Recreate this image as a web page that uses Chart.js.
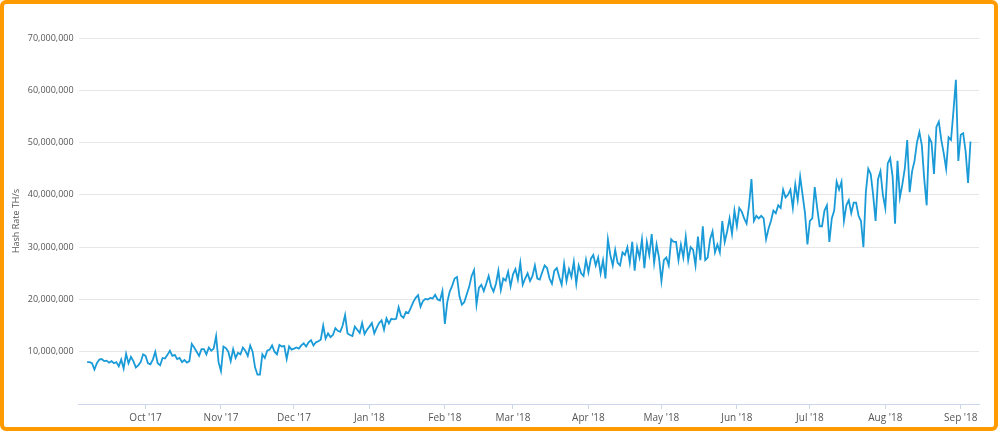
<!DOCTYPE html>
<html>
<head>
<script src="https://cdn.jsdelivr.net/npm/chart.js@4"></script>
<style>
html,body{margin:0;padding:0;background:#fff;}
#wrap{position:absolute;left:0;top:0;width:990px;height:423px;border:4px solid #ff9a00;border-radius:6px;background:#fff;}
</style>
</head>
<body>
<div id="wrap"><canvas id="ctx" width="990" height="423"></canvas></div>
<script>
// daily hash rate in millions TH/s, starting 7 Sep 2017
const startDate = new Date(2017, 8, 7);
const sep17 = [8.0,8.0,7.8,6.6,7.8,8.5,8.6,8.2,8.3,7.9,8.2,7.8,8.0,7.2,8.5,6.8,9.6,7.8,9.0,8.2,7.0,7.4,8.0,9.5];
const oct17 = [9.2,7.8,7.6,8.5,10.0,7.8,7.4,8.8,8.7,9.4,10.2,9.2,9.4,8.6,8.8,8.0,8.4,7.9,8.2,11.5,10.8,10.0,9.2,10.5,10.5,9.5,10.8,10.2,10.6,13.0,8.0];
const nov17 = [6.3,11.0,10.7,10.0,8.2,10.5,8.8,9.8,9.5,10.8,10.2,9.2,11.2,10.0,7.0,5.6,5.6,9.5,8.8,10.2,10.4,11.2,10.0,9.5,11.3,11.0,11.1,8.6,11.0,10.4];
const dec17 = [10.6,10.8,10.6,11.2,11.6,11.0,11.8,12.2,11.2,11.8,12.0,12.3,15.0,12.5,13.5,12.8,13.2,14.5,14.0,13.8,15.0,17.0,13.5,13.2,13.0,14.8,14.2,13.6,15.5,13.4,14.2];
const jan18 = [14.8,15.5,13.5,14.6,15.5,16.0,14.2,16.4,15.4,16.3,16.2,16.3,18.5,16.9,16.5,17.6,17.4,18.4,19.5,20.3,20.8,18.6,19.7,20.1,20.0,20.3,20.2,20.9,20.0,19.8,21.6];
const feb18 = [15.3,19.5,21.5,22.6,24.0,24.3,20.6,19.0,19.5,21.0,22.4,24.5,25.6,19.0,22.2,22.8,21.6,23.0,24.5,22.5,21.5,23.0,25.5,21.8,24.0,23.6,25.3,22.5];
const mar18 = [24.8,25.8,23.8,27.0,22.8,24.0,25.0,23.5,24.5,26.5,24.0,23.8,25.2,26.5,26.0,24.0,23.0,25.5,26.0,24.3,22.8,26.8,23.5,25.8,24.3,27.2,23.0,26.5,25.0,24.5,27.6];
const apr18 = [25.2,27.8,28.5,26.5,28.0,25.0,27.5,24.0,31.5,28.5,26.5,29.5,27.0,26.5,29.0,28.5,30.0,27.0,31.0,25.5,30.0,28.0,31.5,26.0,31.0,28.5,32.5,27.0,30.5,28.0];
const may18 = [23.5,27.5,28.0,26.5,31.5,31.0,31.0,27.5,30.5,28.0,32.0,27.5,30.0,29.5,26.5,32.0,27.5,34.0,27.5,28.0,31.5,33.0,29.0,30.5,29.0,35.0,31.0,33.0,35.5,32.5,37.0];
const jun18 = [34.0,37.5,36.8,35.5,34.5,38.0,43.0,35.0,36.0,35.5,36.0,35.5,31.5,33.5,35.0,37.0,36.5,38.0,37.5,41.0,39.5,40.0,41.0,37.5,42.0,39.0,43.5,40.0,36.5,30.5];
const jul18 = [35.0,35.5,41.5,37.5,34.0,34.0,37.0,38.0,31.0,35.5,37.0,42.5,41.0,42.5,35.0,38.0,39.0,36.5,38.5,38.5,36.0,35.0,30.0,40.5,45.0,44.0,40.0,35.0,43.0,44.5,40.0];
const aug18 = [37.5,46.0,47.0,43.5,34.5,46.5,39.5,42.0,45.0,50.5,40.5,44.5,46.5,50.0,52.0,49.5,43.0,38.0,51.0,50.0,44.0,53.0,54.0,50.5,48.0,45.0,51.0,50.5,56.0,62.0,46.5];
const sep18 = [51.5,51.8,48.3,42.3,50.2];
const hashRate = [].concat(sep17,oct17,nov17,dec17,jan18,feb18,mar18,apr18,may18,jun18,jul18,aug18,sep18);
const monthLabels = ["Oct '17","Nov '17","Dec '17","Jan '18","Feb '18","Mar '18","Apr '18","May '18","Jun '18","Jul '18","Aug '18","Sep '18"];

let points = hashRate.map((v,i) => ({x:i, y:v*1e6}));
// day index of each month start
let monthStarts = [];
for (let k=0;k<monthLabels.length;k++) {
    let d = new Date(2017, 9+k, 1);
    monthStarts.push(Math.round((d-startDate)/86400000));
}

new Chart(document.getElementById('ctx'), {
    type: 'line',
    data: {datasets: [{
        data: points,
        borderColor: '#1a9bd7',
        borderWidth: 1.8,
        pointRadius: 0,
        tension: 0,
        fill: false
    }]},
    options: {
        responsive: false,
        animation: false,
        layout: {padding: {left: 6, right: 15, top: 34, bottom: 0}},
        plugins: {legend: {display: false}, tooltip: {enabled: false}},
        scales: {
            x: {
                type: 'linear',
                min: -3.5, max: hashRate.length + 2.5,
                afterBuildTicks: axis => { axis.ticks = monthStarts.map(v => ({value:v})); },
                ticks: {
                    autoSkip: false, maxRotation: 0, color: '#555',
                    font: {family: 'Open Sans', size: 10},
                    callback: (v) => monthLabels[monthStarts.indexOf(v)]
                },
                grid: {drawOnChartArea: false, tickLength: 5, color: '#ccd6eb'},
                border: {color: '#ccd6eb'}
            },
            y: {
                min: 0, max: 70000000,
                ticks: {
                    stepSize: 10000000, color: '#555', padding: 5,
                    font: {family: 'Open Sans', size: 9},
                    callback: v => v === 0 ? '' : v.toLocaleString('en-US')
                },
                grid: {color: '#e6e6e6', drawTicks: false},
                border: {display: false},
                title: {display: true, text: 'Hash Rate TH/s', color: '#555', padding: 1, font: {family: 'Open Sans', size: 9}}
            }
        }
    }
});
</script>
</body>
</html>
